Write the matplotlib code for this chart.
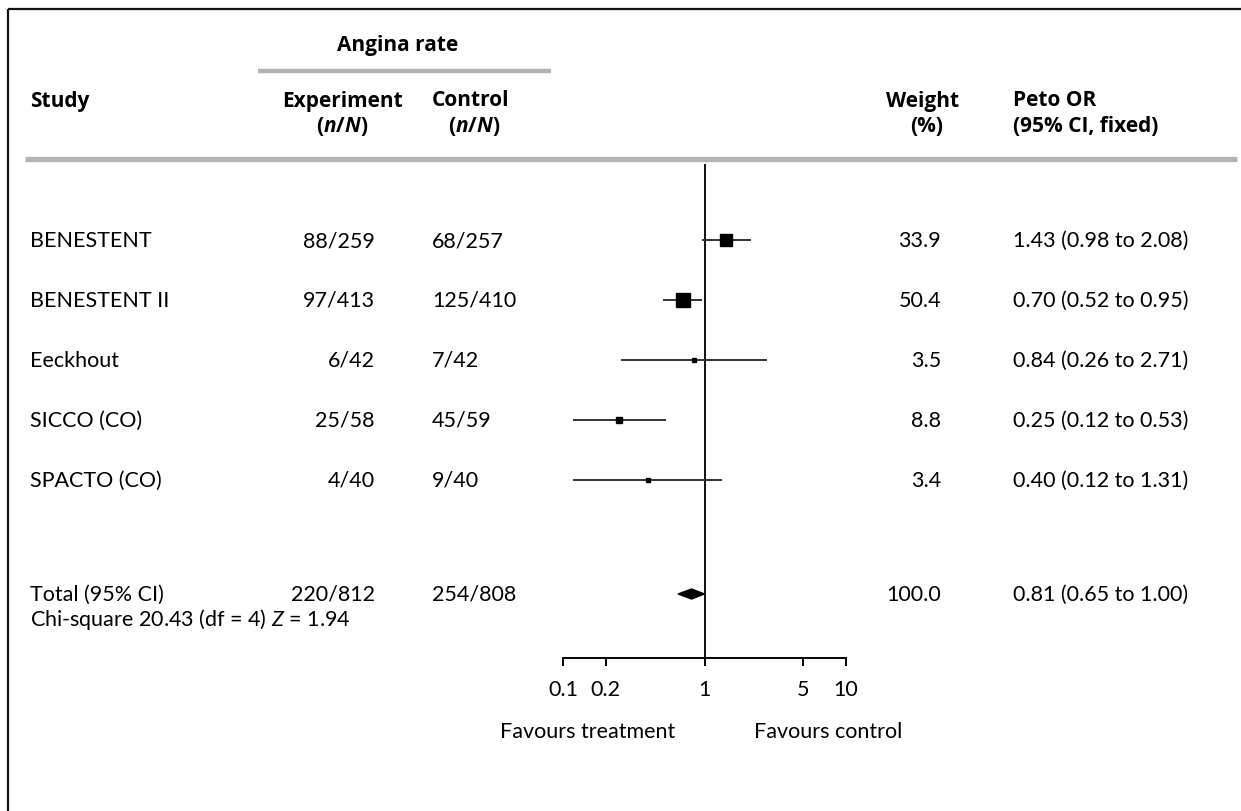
import matplotlib
matplotlib.use("Agg")
import matplotlib.pyplot as plt
from matplotlib.patches import Polygon

plt.rcParams['font.family'] = ['Lato', 'DejaVu Sans']
plt.rcParams['mathtext.fontset'] = 'custom'
plt.rcParams['mathtext.rm'] = 'Lato'
plt.rcParams['mathtext.it'] = 'Lato:italic'
plt.rcParams['mathtext.bf'] = 'Open Sans:bold'
plt.rcParams['mathtext.bfit'] = 'Open Sans:bold:italic'

# data
studies = ['BENESTENT', 'BENESTENT II', 'Eeckhout', 'SICCO (CO)', 'SPACTO (CO)']
exp_events = ['88/259', '97/413', '6/42', '25/58', '4/40']
ctrl_events = ['68/257', '125/410', '7/42', '45/59', '9/40']
weights = [33.9, 50.4, 3.5, 8.8, 3.4]
odds = [1.43, 0.70, 0.84, 0.25, 0.40]
ci_low = [0.98, 0.52, 0.26, 0.12, 0.12]
ci_high = [2.08, 0.95, 2.71, 0.53, 1.31]

total_label = 'Total (95% CI)'
total_exp = '220/812'
total_ctrl = '254/808'
total_weight = 100.0
total_or, total_low, total_high = 0.81, 0.65, 1.00
het_text = 'Chi-square 20.43 (df = 4) $\\it{Z}$ = 1.94'

ticks = [0.1, 0.2, 1, 5, 10]
tick_labels = ['0.1', '0.2', '1', '5', '10']

W, H = 1241, 812
fig = plt.figure(figsize=(W / 100, H / 100), dpi=100)

# background axes in pixel units for the table part
bg = fig.add_axes([0, 0, 1, 1])
bg.set_xlim(0, W)
bg.set_ylim(H, 0)
bg.axis('off')

fs = 15.5
hfs = 15
hfont = ['Open Sans', 'DejaVu Sans']
black = '#111111'
grey = '#b3b3b3'


def head(x, y, s, ha='center'):
    bg.text(x, y, s, ha=ha, va='center', fontsize=hfs, fontweight='bold', family=hfont)


# frame (top + left only)
bg.plot([8, W], [10, 10], color=black, lw=1.6, solid_capstyle='butt')
bg.plot([8, 8], [10, H], color=black, lw=1.6, solid_capstyle='butt')

# header
nN = '($\\mathbfit{n}$/$\\mathbfit{N}$)'
head(398, 45, 'Angina rate')
bg.plot([258, 551], [72, 72], color=grey, lw=3.2, solid_capstyle='butt')
head(30, 101, 'Study', ha='left')
head(342, 101, 'Experiment')
head(342, 126, nN)
head(432, 101, 'Control', ha='left')
head(474, 126, nN)
head(923, 101, 'Weight')
head(927, 126, '(%)')
head(1013, 101, 'Peto OR', ha='left')
head(1013, 126, '(95% CI, fixed)', ha='left')
bg.plot([25, 1237], [160, 160], color=grey, lw=3.8, solid_capstyle='butt')

row_y = [241 + 60 * i for i in range(len(studies))]
total_y = 595

for i, y in enumerate(row_y):
    bg.text(30, y, studies[i], ha='left', va='center', fontsize=fs)
    bg.text(375, y, exp_events[i], ha='right', va='center', fontsize=fs)
    bg.text(432, y, ctrl_events[i], ha='left', va='center', fontsize=fs)
    bg.text(941, y, f'{weights[i]:.1f}', ha='right', va='center', fontsize=fs)
    bg.text(1013, y, f'{odds[i]:.2f} ({ci_low[i]:.2f} to {ci_high[i]:.2f})',
            ha='left', va='center', fontsize=fs)

bg.text(30, total_y, total_label, ha='left', va='center', fontsize=fs)
bg.text(375, total_y, total_exp, ha='right', va='center', fontsize=fs)
bg.text(432, total_y, total_ctrl, ha='left', va='center', fontsize=fs)
bg.text(941, total_y, f'{total_weight:.1f}', ha='right', va='center', fontsize=fs)
bg.text(1013, total_y, f'{total_or:.2f} ({total_low:.2f} to {total_high:.2f})',
        ha='left', va='center', fontsize=fs)
bg.text(30, 620, het_text, ha='left', va='center', fontsize=fs)

bg.text(588, 732, 'Favours treatment', ha='center', va='center', fontsize=fs)
bg.text(828, 732, 'Favours control', ha='center', va='center', fontsize=fs)

# forest plot axes
x0, x1, ytop, ybot = 563, 846, 165, 659
ax = fig.add_axes([x0 / W, 1 - ybot / H, (x1 - x0) / W, (ybot - ytop) / H])
ax.patch.set_alpha(0)
ax.set_xscale('log')
ax.set_xlim(0.1, 10)
ax.set_ylim(ybot, ytop)
for s in ['top', 'right', 'left']:
    ax.spines[s].set_visible(False)
ax.spines['bottom'].set_linewidth(1.4)
ax.set_yticks([])
ax.set_xticks(ticks)
ax.set_xticklabels(tick_labels, fontsize=fs)
ax.xaxis.set_minor_locator(matplotlib.ticker.NullLocator())
ax.tick_params(axis='x', direction='out', length=6, width=1.4, pad=9)

ax.axvline(1, color=black, lw=1.4)

for i, y in enumerate(row_y):
    ax.plot([ci_low[i], ci_high[i]], [y, y], color='#333333', lw=1.4)
    ms = 1.5 * weights[i] ** 0.5
    ax.plot(odds[i], y, marker='s', color='black', markersize=ms, linestyle='none')

diamond = Polygon([(total_low, total_y), (total_or, total_y - 5),
                   (total_high, total_y), (total_or, total_y + 5)],
                  closed=True, color='black')
ax.add_patch(diamond)

fig.savefig('out.png', dpi=100)
